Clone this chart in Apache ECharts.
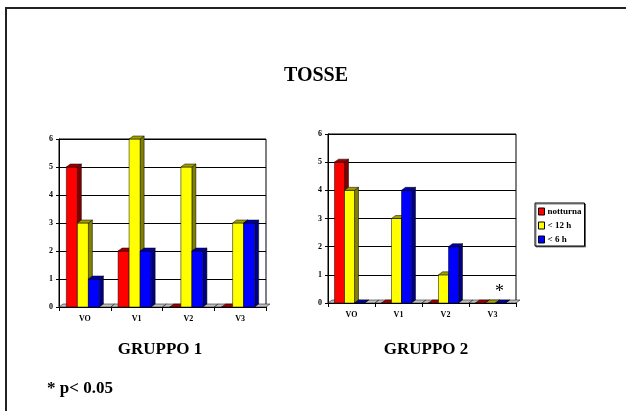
<!DOCTYPE html>
<html>
<head>
<meta charset="utf-8">
<script src="https://cdn.jsdelivr.net/npm/echarts@6/dist/echarts.min.js"></script>
<style>
  html, body { margin: 0; padding: 0; background: #fff; }
  #chart { width: 626px; height: 411px; }
</style>
</head>
<body>
<div id="chart"></div>
<script>
// Visit labels and the three cough categories
const categories = ['VO', 'V1', 'V2', 'V3'];
const seriesNames = ['notturna', '< 12 h', '< 6 h'];

// GRUPPO 1
const g1Notturna = [5, 2, 0, 0];
const g1Under12 = [3, 6, 5, 3];
const g1Under6 = [1, 2, 2, 3];

// GRUPPO 2
const g2Notturna = [5, 0, 0, 0];
const g2Under12 = [4, 3, 1, 0];
const g2Under6 = [0, 4, 2, 0];

// significance marks above the GRUPPO 2 visits
const g2Notes = ['', '', '', '*'];

const yTicks = [0, 1, 2, 3, 4, 5, 6];

const FONT = "'Liberation Serif', 'Times New Roman', serif";

// front / side / top shades for the pseudo-3D columns
const shades = [
  { front: '#ff0000', side: '#800000', top: '#a00000' },
  { front: '#ffff00', side: '#808000', top: '#a0a000' },
  { front: '#0000ff', side: '#000080', top: '#0000a0' }
];

const DX = 4, DY = 3;

function bar3D(idx, notes) {
  const c = shades[idx];
  return function (params, api) {
    const cat = api.value(0);
    const v = api.value(1);
    const base = api.coord([cat, 0]);
    const top = api.coord([cat, v]);
    const cw = api.size([1, 0])[0];
    const bw = cw * 0.213;
    const x0 = base[0] - 1.5 * bw - DX / 2 + idx * bw;
    const yT = top[1], yB = base[1];
    const edge = { stroke: '#000', lineWidth: 0.5 };
    const children = [
      {
        type: 'polygon',
        shape: { points: [[x0 + bw, yT], [x0 + bw + DX, yT - DY], [x0 + bw + DX, yB - DY], [x0 + bw, yB]] },
        style: Object.assign({ fill: c.side }, edge)
      },
      {
        type: 'rect',
        shape: { x: x0, y: yT, width: bw, height: yB - yT },
        style: Object.assign({ fill: c.front }, edge)
      },
      {
        type: 'polygon',
        shape: { points: [[x0, yT], [x0 + DX, yT - DY], [x0 + bw + DX, yT - DY], [x0 + bw, yT]] },
        style: Object.assign({ fill: c.top }, edge)
      }
    ];
    if (notes && notes[params.dataIndex]) {
      children.push({
        type: 'text',
        style: {
          text: notes[params.dataIndex],
          x: x0 + bw / 2 + 9, y: yT - 2,
          align: 'center', verticalAlign: 'bottom',
          font: '18px ' + FONT, fill: '#000'
        }
      });
    }
    return { type: 'group', children: children };
  };
}

// grey floor strip under each category slot
function floor3D(params, api) {
  const cat = api.value(0);
  const base = api.coord([cat, 0]);
  const cw = api.size([1, 0])[0];
  const xl = base[0] - cw / 2, xr = base[0] + cw / 2;
  const y = base[1];
  return {
    type: 'polygon',
    shape: { points: [[xl, y], [xl + DX, y - DY], [xr + DX, y - DY], [xr, y]] },
    style: { fill: '#c0c0c0', stroke: '#000', lineWidth: 0.5 }
  };
}

function pairs(arr) { return arr.map((v, i) => [i, v]); }

function makeSeries(gridIdx, arrays, notes) {
  const floor = {
    type: 'custom',
    name: 'floor',
    xAxisIndex: gridIdx,
    yAxisIndex: gridIdx,
    renderItem: floor3D,
    data: categories.map((c, i) => [i, 0]),
    z: 2
  };
  return [floor].concat(arrays.map((arr, i) => ({
    type: 'custom',
    name: seriesNames[i],
    xAxisIndex: gridIdx,
    yAxisIndex: gridIdx,
    itemStyle: { color: shades[i].front },
    renderItem: bar3D(i, i === 1 ? notes : null),
    data: pairs(arr),
    z: 3 + i
  })));
}

const axisText = { color: '#000', fontFamily: FONT, fontWeight: 'bold', fontSize: 8 };

function xAxis(gridIdx) {
  return {
    type: 'category', gridIndex: gridIdx, data: categories,
    axisLine: { lineStyle: { color: '#000', width: 1 } },
    axisTick: { show: true, interval: 0, length: 4, lineStyle: { color: '#000' } },
    axisLabel: Object.assign({ margin: 8, interval: 0 }, axisText),
    splitLine: { show: false }
  };
}
function yAxis(gridIdx) {
  return {
    type: 'value', gridIndex: gridIdx, min: yTicks[0], max: yTicks[yTicks.length - 1], interval: 1,
    axisLine: { show: true, lineStyle: { color: '#000', width: 1 } },
    axisTick: { show: true, length: 3, lineStyle: { color: '#000' } },
    axisLabel: Object.assign({ margin: 6 }, axisText),
    splitLine: { show: true, lineStyle: { color: '#000', width: 1 } }
  };
}

const chart = echarts.init(document.getElementById('chart'), null, { renderer: 'canvas' });

const titleText = (size) => ({ fontFamily: FONT, fontWeight: 'bold', fontSize: size, color: '#000' });

chart.setOption({
  backgroundColor: '#fff',
  animation: false,
  title: [
    { text: 'TOSSE', left: 316, top: 66, textAlign: 'center', padding: 0, textStyle: titleText(20) },
    { text: 'GRUPPO 1', left: 160, top: 341, textAlign: 'center', padding: 0, textStyle: titleText(17) },
    { text: 'GRUPPO 2', left: 426, top: 341, textAlign: 'center', padding: 0, textStyle: titleText(17) },
    { text: '* p< 0.05', left: 47, top: 380, padding: 0, textStyle: titleText(17) }
  ],
  legend: {
    data: seriesNames,
    orient: 'vertical',
    left: 535, top: 203,
    padding: [4, 3, 2, 3],
    itemGap: 5,
    itemWidth: 6, itemHeight: 7,
    icon: 'rect',
    itemStyle: { borderColor: '#000', borderWidth: 1 },
    borderColor: '#000', borderWidth: 1,
    shadowColor: 'rgba(0,0,0,0.5)', shadowOffsetX: 1, shadowOffsetY: 1,
    backgroundColor: '#fff',
    selectedMode: false,
    textStyle: { fontFamily: FONT, fontWeight: 'bold', fontSize: 9, color: '#000', padding: [0, 0, 0, -2] }
  },
  grid: [
    { left: 59, top: 139, width: 207, height: 168, show: true, borderColor: '#000', borderWidth: 1, backgroundColor: 'transparent' },
    { left: 328, top: 134, width: 188, height: 169, show: true, borderColor: '#000', borderWidth: 1, backgroundColor: 'transparent' }
  ],
  xAxis: [xAxis(0), xAxis(1)],
  yAxis: [yAxis(0), yAxis(1)],
  graphic: [
    { type: 'rect', shape: { x: 6, y: 8, width: 630, height: 420 },
      style: { fill: 'none', stroke: '#222', lineWidth: 2 }, silent: true }
  ],
  series: [].concat(
    makeSeries(0, [g1Notturna, g1Under12, g1Under6], null),
    makeSeries(1, [g2Notturna, g2Under12, g2Under6], g2Notes)
  )
});
</script>
</body>
</html>
